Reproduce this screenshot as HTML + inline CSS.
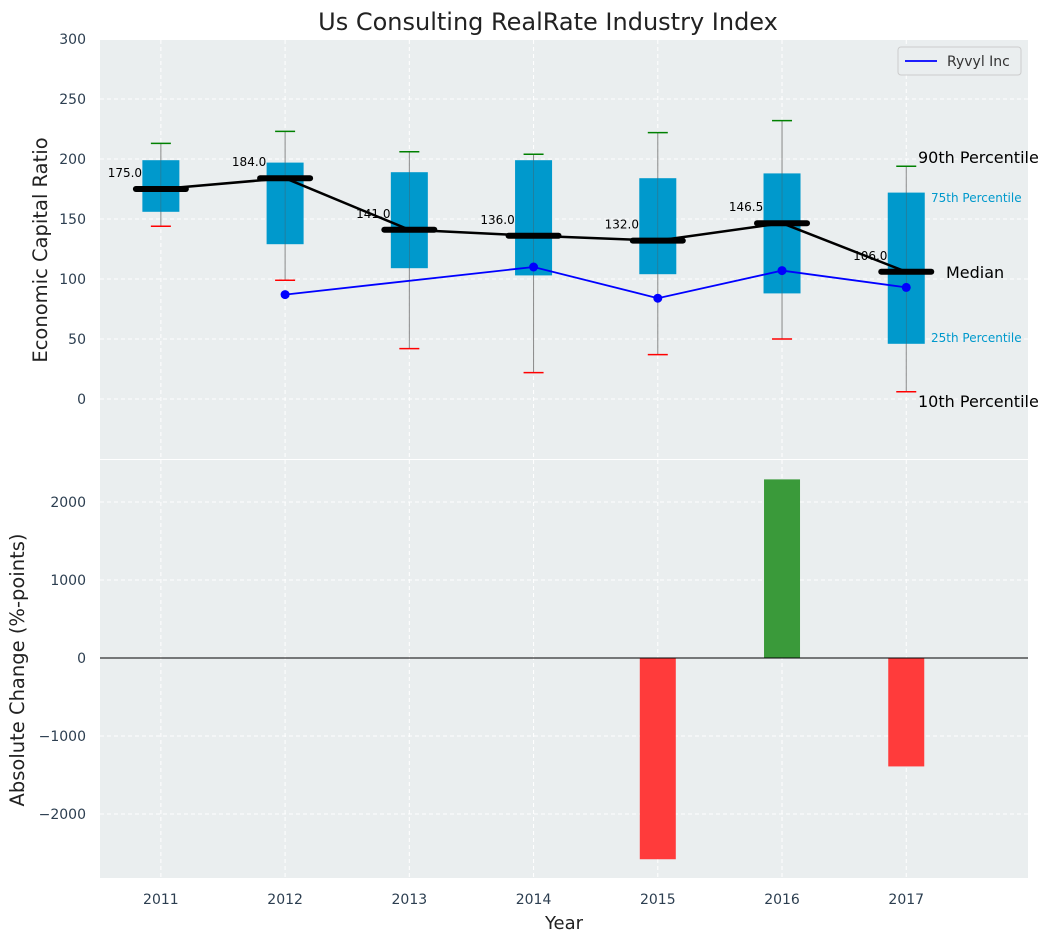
<!DOCTYPE html>
<html><head><meta charset="utf-8"><style>
body{margin:0;background:#fff;font-family:"Liberation Sans","DejaVu Sans",sans-serif;}
svg text{font-family:"DejaVu Sans","Liberation Sans",sans-serif;}
</style></head><body>
<svg id="chart" width="1053" height="942" xmlns="http://www.w3.org/2000/svg">
<text x="548" y="30" font-size="24" text-anchor="middle" fill="#222">Us Consulting RealRate Industry Index</text>
<g id="topPanel"></g>
<g id="botPanel"></g>
</svg>
<script>
const years=[2011,2012,2013,2014,2015,2016,2017];
const p10=[144,99,42,22,37,50,6];
const q1=[156,129,109,103,104,88,46];
const med=[175,184,141,136,132,146.5,106];
const q3=[199,197,189,199,184,188,172];
const p90=[213,223,206,204,222,232,194];
const ryYears=[2012,2014,2015,2016,2017];
const ryVals=[87,110,84,107,93];
const chgYears=[2015,2016,2017];
const chgVals=[-2580,2290,-1390];
const topTicks=[0,50,100,150,200,250,300];
const botTicks=[-2000,-1000,0,1000,2000];

const NS='http://www.w3.org/2000/svg';
const L=100,R=1028;
const xs=v=>L+(v-2010.51)*(R-L)/(2017.98-2010.51);
const yT=v=>399-(v)*1.2;
const yB=v=>658-v*0.078;
function mk(p,t,a){const e=document.createElementNS(NS,t);for(const k in a)e.setAttribute(k,a[k]);p.appendChild(e);return e;}
const gTop=document.getElementById('topPanel'),gBot=document.getElementById('botPanel');
function panel(g,y0,y1){
 let r=mk(g,'rect',{x:L,y:y0,width:R-L,height:y1-y0,fill:'#eaeeef'});
 
 
 years.forEach(yr=>{let l=mk(g,'line',{x1:xs(yr),x2:xs(yr),y1:y0,y2:y1,stroke:'#fff','stroke-dasharray':'4,3'});
 
 });
}
panel(gTop,40,459);panel(gBot,460,878);
topTicks.forEach(t=>{
 let l=mk(gTop,'line',{x1:L,x2:R,y1:yT(t),y2:yT(t),stroke:'#fff','stroke-dasharray':'4,3'});
 
 
 let tx=mk(gTop,'text',{x:86,y:yT(t)+5,'font-size':14,'text-anchor':'end',fill:'#2c3e50'});tx.textContent=t;
 
 
});
botTicks.forEach(t=>{
 let l=mk(gBot,'line',{x1:L,x2:R,y1:yB(t),y2:yB(t),stroke:'#fff','stroke-dasharray':'4,3'});
 
 
 let tx=mk(gBot,'text',{x:86,y:yB(t)+5,'font-size':14,'text-anchor':'end',fill:'#2c3e50'});tx.textContent=(t<0?'\u2212'+(-t):t);
 
 
});
years.forEach(yr=>{let tx=mk(gBot,'text',{x:xs(yr),y:904,'font-size':14,'text-anchor':'middle',fill:'#2c3e50'});tx.textContent=yr;
 
 });
years.forEach((yr,i)=>{
 const x=xs(yr);
 let w=mk(gTop,'line',{x1:x,x2:x,y1:yT(p10[i]),y2:yT(p90[i]),stroke:'#888','stroke-width':1});
 
 
 let b=mk(gTop,'rect',{x:x-18.5,y:yT(q3[i]),width:37,height:yT(q1[i])-yT(q3[i]),fill:'#0099cc'});
 
 
 let w2=mk(gTop,'line',{x1:x,x2:x,y1:yT(q3[i]),y2:yT(q1[i]),stroke:'#555','stroke-width':0.6,opacity:0.6});
 
 
 let c1=mk(gTop,'line',{x1:x-10,x2:x+10,y1:yT(p90[i]),y2:yT(p90[i]),stroke:'green','stroke-width':1.5});
 
 
 let c2=mk(gTop,'line',{x1:x-10,x2:x+10,y1:yT(p10[i]),y2:yT(p10[i]),stroke:'red','stroke-width':1.5});
 
 
});
let mp=years.map((yr,i)=>xs(yr)+','+yT(med[i])).join(' ');
let ml=mk(gTop,'polyline',{points:mp,fill:'none',stroke:'#000','stroke-width':2.5});


years.forEach((yr,i)=>{const x=xs(yr);
 let m=mk(gTop,'line',{x1:x-25,x2:x+25,y1:yT(med[i]),y2:yT(med[i]),stroke:'#000','stroke-width':6,'stroke-linecap':'round'});
 
 
 let t=mk(gTop,'text',{x:x-36,y:yT(med[i])-12,'font-size':12,'text-anchor':'middle',fill:'#000'});t.textContent=med[i].toFixed(1);
 
 
});
let rp=ryYears.map((yr,i)=>xs(yr)+','+yT(ryVals[i])).join(' ');
let rl=mk(gTop,'polyline',{points:rp,fill:'none',stroke:'blue','stroke-width':1.8});


ryYears.forEach((yr,i)=>{let c=mk(gTop,'circle',{cx:xs(yr),cy:yT(ryVals[i]),r:4.5,fill:'blue'});
 
 });
const ann=[['90th Percentile',918,163,16,'#000'],['75th Percentile',931,202,12,'#0099cc'],['Median',946,278,16,'#000'],['25th Percentile',931,342,12,'#0099cc'],['10th Percentile',918,407,16,'#000']];
ann.forEach(a=>{let t=mk(gTop,'text',{x:a[1],y:a[2],'font-size':a[3],fill:a[4]});t.textContent=a[0];
 
 });
let lg=mk(gTop,'g',{});


mk(lg,'rect',{x:898,y:47,width:123,height:28,fill:'#eaeeef',stroke:'#ccc',rx:3});
mk(lg,'line',{x1:905,x2:937,y1:61,y2:61,stroke:'blue','stroke-width':1.8});
let lt=mk(lg,'text',{x:947,y:66,'font-size':14,fill:'#333'});lt.textContent='Ryvyl Inc';
chgYears.forEach((yr,i)=>{const v=chgVals[i];
 let b=mk(gBot,'rect',{x:xs(yr)-18,y:Math.min(yB(v),yB(0)),width:36,height:Math.abs(yB(v)-yB(0)),fill:v<0?'#ff3b3b':'#3a9a3a'});
 
 
});
let z=mk(gBot,'line',{x1:L,x2:R,y1:yB(0),y2:yB(0),stroke:'#000','stroke-width':1});


let a1=mk(gTop,'text',{x:0,y:0,'font-size':19.5,'text-anchor':'middle',fill:'#222',transform:'translate(47,250) rotate(-90)'});a1.textContent='Economic Capital Ratio';


let a2=mk(gBot,'text',{x:0,y:0,'font-size':19.5,'text-anchor':'middle',fill:'#222',transform:'translate(24,670) rotate(-90)'});a2.textContent='Absolute Change (%-points)';


let a3=mk(gBot,'text',{x:564,y:929,'font-size':18,'text-anchor':'middle',fill:'#222'});a3.textContent='Year';


</script>
</body></html>
